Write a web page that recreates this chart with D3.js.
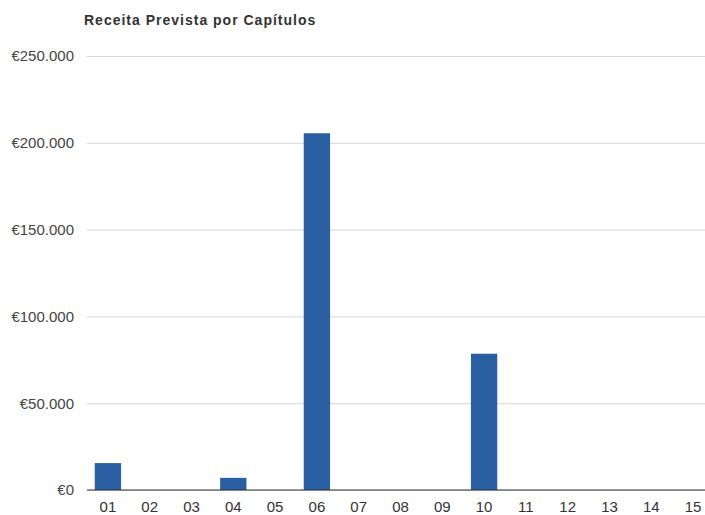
<!DOCTYPE html>
<meta charset="utf-8">
<html>
<head>
    <script src="https://d3js.org/d3.v7.min.js"></script>
    <style>
        body { margin: 0; background: #fff; }
        text { font-family: "Liberation Sans", Arial, sans-serif; }
    </style>
</head>
<body>
    <div id="chart"></div>
    <script>
        // chart data
        var capitulos = ["01", "02", "03", "04", "05", "06", "07", "08", "09", "10", "11", "12", "13", "14", "15"];
        var receita = [15500, 0, 0, 7000, 0, 205500, 0, 0, 0, 78500, 0, 0, 0, 0, 0];
        var yTicks = [0, 50000, 100000, 150000, 200000, 250000];
        var titulo = "Receita Prevista por Capítulos";

        var W = 705, H = 515;
        var margin = { top: 56, right: -9, bottom: 25, left: 87 };

        var svg = d3.select("#chart")
            .append("svg")
            .attr("width", W)
            .attr("height", H);

        var x = d3.scaleBand()
            .domain(capitulos)
            .range([margin.left, W - margin.right])
            .paddingInner(0.37)
            .paddingOuter(0.185);

        var y = d3.scaleLinear()
            .domain([0, 250000])
            .range([H - margin.bottom, margin.top]);

        var pt = d3.formatLocale({ decimal: ",", thousands: ".", grouping: [3], currency: ["€", ""] });
        var fmt = pt.format("$,.0f");

        // gridlines + y labels
        var yAxis = svg.append("g")
            .attr("transform", "translate(" + margin.left + ",0)")
            .call(d3.axisLeft(y).tickValues(yTicks).tickFormat(fmt).tickSize(-(W - margin.left)).tickPadding(13));
        yAxis.select(".domain").remove();
        yAxis.selectAll(".tick line").attr("stroke", "#d6d6d6").attr("stroke-width", 1);
        yAxis.selectAll(".tick text")
            .attr("fill", "#444")
            .style("font-size", "15px");

        // bars
        svg.append("g")
            .selectAll("rect")
            .data(capitulos)
            .enter()
            .append("rect")
            .attr("x", function (d) { return x(d); })
            .attr("y", function (d, i) { return y(receita[i]); })
            .attr("width", x.bandwidth())
            .attr("height", function (d, i) { return y(0) - y(receita[i]); })
            .attr("fill", "#2b5fa3");

        // baseline
        svg.append("line")
            .attr("x1", margin.left).attr("x2", W)
            .attr("y1", y(0)).attr("y2", y(0))
            .attr("stroke", "#333").attr("stroke-width", 1.2);

        // x labels
        var xAxis = svg.append("g")
            .attr("transform", "translate(0," + y(0) + ")")
            .call(d3.axisBottom(x).tickSize(0).tickPadding(11));
        xAxis.select(".domain").remove();
        xAxis.selectAll(".tick text")
            .attr("fill", "#333")
            .style("font-size", "15px");

        // title
        svg.append("text")
            .attr("x", 84)
            .attr("y", 25)
            .attr("fill", "#333")
            .style("font-size", "14px")
            .style("font-weight", "bold")
            .style("letter-spacing", "1px")
            .text(titulo);
    </script>
</body>
</html>
